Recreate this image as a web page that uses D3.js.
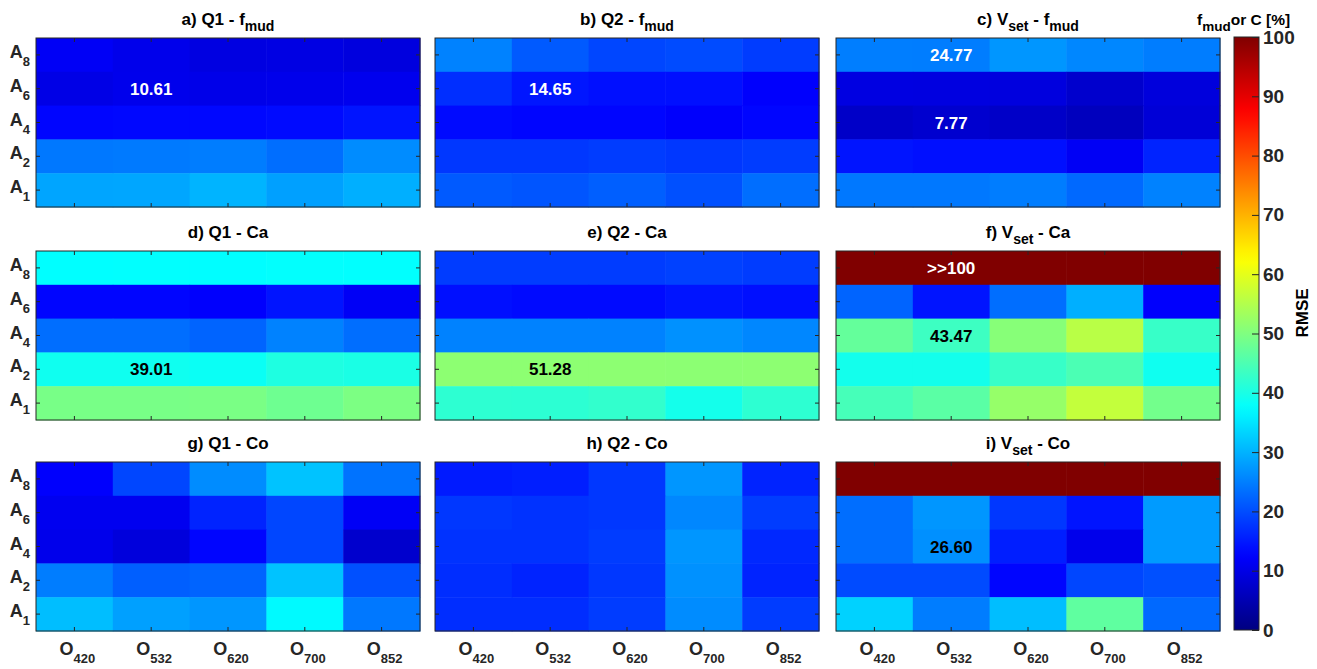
<!DOCTYPE html>
<html>
<head>
<meta charset="utf-8">
<script src="https://cdn.jsdelivr.net/npm/d3@7"></script>
<style>
  body { margin: 0; background: #fff; }
  svg text { font-family: "Liberation Sans", Arial, sans-serif; font-weight: bold; }
</style>
</head>
<body>
<svg id="chart" width="1317" height="669"></svg>
<script>
// categories (top to bottom rows, left to right columns)
var colNames = ["420", "532", "620", "700", "852"];
var rowNames = ["8", "6", "4", "2", "1"];

// RMSE values, rows A8, A6, A4, A2, A1 ; columns O420..O852
var fmudQ1 = [
  [11.6, 10.5, 9.6, 9.8, 9.3],
  [10.0, 10.61, 10.3, 10.5, 10.8],
  [13.0, 13.2, 13.2, 13.5, 14.5],
  [24.3, 24.5, 24.8, 23.3, 26.2],
  [28.7, 28.8, 30.1, 28.2, 29.7]
];
var fmudQ2 = [
  [25.2, 21.3, 19.4, 19.9, 18.4],
  [17.0, 14.65, 14.0, 14.0, 12.3],
  [13.5, 13.0, 13.0, 12.2, 13.0],
  [17.9, 17.9, 18.4, 17.9, 18.4],
  [21.3, 20.8, 21.8, 20.3, 23.3]
];
var fmudVset = [
  [24.9, 24.77, 27.2, 25.7, 24.8],
  [9.6, 9.5, 9.3, 7.6, 9.1],
  [7.1, 7.77, 7.1, 6.1, 8.6],
  [14.5, 14.0, 14.0, 11.5, 15.9],
  [24.3, 24.3, 24.8, 22.8, 25.2]
];
var caQ1 = [
  [37.5, 37.6, 37.4, 37.7, 37.6],
  [13.0, 13.0, 12.3, 14.5, 11.6],
  [23.3, 23.3, 22.3, 25.2, 23.3],
  [39.0, 39.01, 38.5, 40.4, 40.0],
  [49.3, 49.3, 49.5, 48.3, 49.7]
];
var caQ2 = [
  [18.4, 18.4, 18.4, 18.9, 18.4],
  [14.0, 13.5, 13.5, 14.5, 14.0],
  [25.2, 25.2, 25.2, 26.7, 25.7],
  [51.3, 51.28, 51.3, 51.2, 51.3],
  [41.9, 41.8, 42.4, 39.5, 41.9]
];
var caVset = [
  [100, 100, 100, 100, 100],
  [22.3, 14.5, 23.3, 29.7, 12.3],
  [47.3, 43.47, 50.7, 55.6, 42.9],
  [39.4, 39.4, 42.9, 44.9, 39.0],
  [44.4, 46.3, 52.2, 56.6, 48.8]
];
var coQ1 = [
  [12.3, 19.4, 26.2, 31.6, 23.8],
  [11.0, 11.0, 15.9, 19.4, 11.6],
  [10.5, 9.1, 13.0, 19.4, 7.6],
  [24.8, 21.8, 22.3, 31.6, 20.3],
  [31.1, 28.2, 27.2, 37.0, 24.3]
];
var coQ2 = [
  [15.0, 15.4, 17.9, 27.2, 15.9],
  [17.9, 17.4, 17.9, 25.7, 18.4],
  [17.4, 17.4, 18.4, 27.2, 16.4],
  [16.9, 15.9, 17.9, 26.7, 15.9],
  [16.9, 16.9, 18.4, 26.2, 18.4]
];
var coVset = [
  [100, 100, 100, 100, 100],
  [23.3, 27.2, 17.9, 14.5, 27.7],
  [23.3, 26.60, 15.4, 10.5, 27.7],
  [19.9, 19.9, 13.0, 19.4, 20.3],
  [33.1, 24.8, 31.1, 46.8, 22.8]
];

// titles as [text, isSubscript] pieces
var titles = [
  [["a) Q1 - f", 0], ["mud", 1]],
  [["b) Q2 - f", 0], ["mud", 1]],
  [["c) V", 0], ["set", 1], [" - f", 0], ["mud", 1]],
  [["d) Q1 - Ca", 0]],
  [["e) Q2 - Ca", 0]],
  [["f) V", 0], ["set", 1], [" - Ca", 0]],
  [["g) Q1 - Co", 0]],
  [["h) Q2 - Co", 0]],
  [["i) V", 0], ["set", 1], [" - Co", 0]]
];
var panelData = [fmudQ1, fmudQ2, fmudVset, caQ1, caQ2, caVset, coQ1, coQ2, coVset];

// annotated cells: panel index, row, column, label, text colour
var notes = [
  [0, "6", "532", "10.61", "#fff"],
  [1, "6", "532", "14.65", "#fff"],
  [2, "8", "532", "24.77", "#fff"],
  [2, "4", "532", "7.77", "#fff"],
  [3, "2", "532", "39.01", "#000"],
  [4, "2", "532", "51.28", "#000"],
  [5, "8", "532", ">>100", "#fff"],
  [5, "4", "532", "43.47", "#000"],
  [8, "4", "532", "26.60", "#000"]
];
var cbTicks = [0, 10, 20, 30, 40, 50, 60, 70, 80, 90, 100];

// MATLAB-like jet colormap
function jet(t) {
  function c(v) { return Math.max(0, Math.min(1, v)); }
  var r = c(1.5 - Math.abs(4 * t - 3)),
      g = c(1.5 - Math.abs(4 * t - 2)),
      b = c(1.5 - Math.abs(4 * t - 1));
  return d3.rgb(r * 255, g * 255, b * 255).toString();
}
var color = d3.scaleSequential(jet).domain([0, 100]).clamp(true);

var svg = d3.select("#chart");
var axisColor = "#262626";

var colX = [36, 435, 836],
    rowY = [38, 251, 462],
    pw = 384, ph = 169;

function addPieces(textSel, pieces, subSize, drop) {
  var down = false;
  pieces.forEach(function (p) {
    var ts = textSel.append("tspan").text(p[0]);
    if (p[1] && !down) { ts.attr("dy", drop).attr("font-size", subSize); down = true; }
    else if (p[1]) { ts.attr("font-size", subSize); }
    else if (!p[1] && down) { ts.attr("dy", -drop); down = false; }
  });
}

panelData.forEach(function (data, i) {
  var pc = i % 3, pr = Math.floor(i / 3);
  var g = svg.append("g").attr("transform", "translate(" + colX[pc] + "," + rowY[pr] + ")");

  var x = d3.scaleBand().domain(colNames).range([0, pw]);
  var y = d3.scaleBand().domain(rowNames).range([0, ph]);

  var cells = [];
  data.forEach(function (row, ri) {
    row.forEach(function (v, ci) { cells.push({ r: rowNames[ri], c: colNames[ci], v: v }); });
  });

  g.selectAll("rect.cell").data(cells).enter().append("rect")
    .attr("class", "cell")
    .attr("x", function (d) { return x(d.c); })
    .attr("y", function (d) { return y(d.r); })
    .attr("width", x.bandwidth() + 0.5)
    .attr("height", y.bandwidth() + 0.5)
    .attr("fill", function (d) { return color(d.v); });

  // ticks (inward, all four sides)
  var tk = g.append("g").attr("stroke", axisColor).attr("stroke-width", 1);
  colNames.forEach(function (c) {
    var cx = x(c) + x.bandwidth() / 2;
    tk.append("line").attr("x1", cx).attr("x2", cx).attr("y1", 0).attr("y2", 4);
    tk.append("line").attr("x1", cx).attr("x2", cx).attr("y1", ph).attr("y2", ph - 4);
  });
  rowNames.forEach(function (r) {
    var cy = y(r) + y.bandwidth() / 2;
    tk.append("line").attr("y1", cy).attr("y2", cy).attr("x1", 0).attr("x2", 4);
    tk.append("line").attr("y1", cy).attr("y2", cy).attr("x1", pw).attr("x2", pw - 4);
  });

  g.append("rect").attr("width", pw).attr("height", ph)
    .attr("fill", "none").attr("stroke", axisColor).attr("stroke-width", 1);

  // title
  var t = g.append("text").attr("x", pw / 2).attr("y", -13)
    .attr("text-anchor", "middle").attr("font-size", 17).attr("fill", "#000");
  addPieces(t, titles[i], 14, 6);

  // y labels on the left column
  if (pc === 0) {
    rowNames.forEach(function (r) {
      var lt = g.append("text").attr("x", -6).attr("y", y(r) + y.bandwidth() / 2 + 3)
        .attr("text-anchor", "end").attr("fill", axisColor).attr("font-size", 18);
      addPieces(lt, [["A", 0], [r, 1]], 13, 8);
    });
  }
  // x labels on the bottom row
  if (pr === 2) {
    colNames.forEach(function (c) {
      var lt = g.append("text").attr("x", x(c) + x.bandwidth() / 2 + 3).attr("y", ph + 24)
        .attr("text-anchor", "middle").attr("fill", axisColor).attr("font-size", 18);
      addPieces(lt, [["O", 0], [c, 1]], 13, 8);
    });
  }

  notes.filter(function (n) { return n[0] === i; }).forEach(function (n) {
    g.append("text")
      .attr("x", x(n[2]) + x.bandwidth() / 2)
      .attr("y", y(n[1]) + y.bandwidth() / 2 + 6)
      .attr("text-anchor", "middle").attr("font-size", 17)
      .attr("fill", n[4]).text(n[3]);
  });
});

// colour bar
var cbX = 1234, cbW = 25, cbTop = 37, cbBot = 630;
var grad = svg.append("defs").append("linearGradient").attr("id", "jetgrad")
  .attr("x1", 0).attr("x2", 0).attr("y1", 1).attr("y2", 0);
d3.range(0, 101, 2).forEach(function (v) {
  grad.append("stop").attr("offset", v / 100).attr("stop-color", color(v));
});
svg.append("rect").attr("x", cbX).attr("y", cbTop).attr("width", cbW).attr("height", cbBot - cbTop)
  .attr("fill", "url(#jetgrad)").attr("stroke", axisColor);

var cbScale = d3.scaleLinear().domain([0, 100]).range([cbBot, cbTop]);
var cbAxis = svg.append("g").attr("transform", "translate(" + (cbX + cbW) + ",0)")
  .call(d3.axisRight(cbScale).tickValues(cbTicks).tickSizeInner(-7).tickSizeOuter(0).tickPadding(4));
cbAxis.select(".domain").remove();
cbAxis.selectAll("line").attr("stroke", axisColor);
cbAxis.selectAll("text").attr("font-size", 19).attr("fill", axisColor)
  .attr("font-family", "'Liberation Sans', Arial, sans-serif").attr("font-weight", "bold");

svg.append("text").attr("transform", "translate(1308,313) rotate(-90)")
  .attr("text-anchor", "middle").attr("font-size", 17).attr("fill", "#000").text("RMSE");

var cbt = svg.append("text").attr("x", 1197).attr("y", 25).attr("font-size", 15.5).attr("fill", "#000");
addPieces(cbt, [["f", 0], ["mud", 1], ["or C [%]", 0]], 13.5, 6);
</script>
</body>
</html>
